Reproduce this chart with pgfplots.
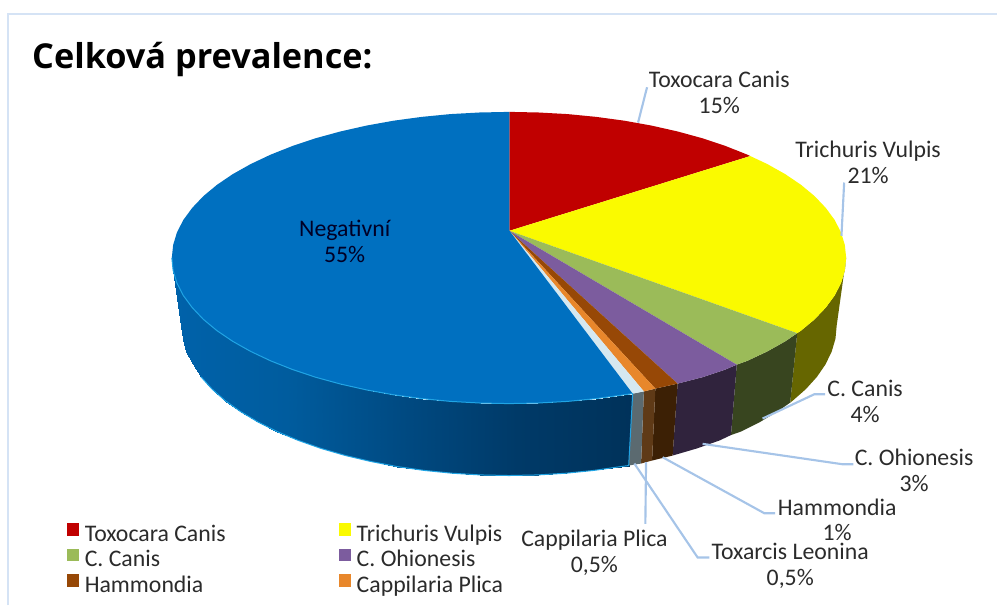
\documentclass[border=0pt]{standalone}
\usepackage{fontspec}
\setmainfont{Carlito}
\newfontfamily\titlefont{Open Sans}
\usepackage{pgfplots}
\pgfplotsset{compat=1.18}

\definecolor{cRed}{HTML}{C00000}
\definecolor{cYellow}{HTML}{FAFA00}
\definecolor{cGreen}{HTML}{9BBB59}
\definecolor{cPurple}{HTML}{7C5C9E}
\definecolor{cBrown}{HTML}{974806}
\definecolor{cOrange}{HTML}{E8872B}
\definecolor{cLight}{HTML}{D5E8F0}
\definecolor{cBlue}{HTML}{0070C0}
\definecolor{sideOlive}{HTML}{666600}
\definecolor{sideGreen}{HTML}{38451F}
\definecolor{sidePurple}{HTML}{30233D}
\definecolor{sideBrown}{HTML}{3C2005}
\definecolor{sideOrange}{HTML}{5F3A17}
\definecolor{sideGrey}{HTML}{5B6A70}
\definecolor{rimCyan}{HTML}{20A4E4}
\definecolor{leader}{HTML}{A6C4E8}
\definecolor{frameBlue}{HTML}{D5E3F5}
\definecolor{labelText}{HTML}{2B2B2B}

\begin{document}
\begin{tikzpicture}[x=1pt,y=1pt]
\begin{axis}[
  scale only axis, width=748.5pt, height=454.5pt,
  xmin=0, xmax=998, ymin=0, ymax=606, y dir=reverse,
  hide axis, clip=false,
  colormap={blueside}{rgb255=(0,98,170) rgb255=(0,92,158) rgb255=(0,74,130) rgb255=(0,58,104) rgb255=(0,50,90)},
  point meta min=172, point meta max=633,
  area legend,
  legend image code/.code={\fill[#1] (0pt,-0.6pt) rectangle (9.4pt,8.8pt);},
  legend columns=2,
  legend cell align=left,
  legend style={
    at={(axis cs:67,523)}, anchor=north west,
    draw=none, fill=none, inner sep=0pt, outer sep=0pt,
    font=\fontsize{17.85}{21}\selectfont\color{labelText},
    nodes={inner sep=0pt, text depth=5.1pt, text height=14pt},
    /tikz/every even column/.append style={column sep=85pt},
    /tikz/column 1/.style={column sep=4pt},
    /tikz/column 3/.style={column sep=4pt},
  },
]
\path (axis cs:0,0) rectangle (axis cs:998,606);

% frame of the chart area
\addplot[forget plot, frameBlue, line width=1.5pt] coordinates {(8,606)(8,14.5)(998,14.5)};

% side wall of the large blue sector, shaded along the rim
\addplot[forget plot, patch, patch type=rectangle, shader=interp, point meta=x] coordinates {
(172,258)(173.3,270.7)(182.7,339.1)(181.5,326)
(173.3,270.7)(177.1,283.3)(186.5,352)(182.7,339.1)
(177.1,283.3)(183.5,295.8)(192.7,364.8)(186.5,352)
(183.5,295.8)(192.4,307.9)(201.3,377.3)(192.7,364.8)
(192.4,307.9)(203.6,319.7)(212.2,389.4)(201.3,377.3)
(203.6,319.7)(217.2,331)(225.4,401)(212.2,389.4)
(217.2,331)(233,341.7)(240.8,412)(225.4,401)
(233,341.7)(251,351.8)(258.2,422.4)(240.8,412)
(251,351.8)(270.9,361.2)(277.6,432.1)(258.2,422.4)
(270.9,361.2)(292.6,369.8)(298.7,440.9)(277.6,432.1)
(292.6,369.8)(315.9,377.6)(321.4,448.9)(298.7,440.9)
(315.9,377.6)(340.75,384.4)(345.5,455.9)(321.4,448.9)
(340.75,384.4)(366.9,390.3)(370.9,461.9)(345.5,455.9)
(366.9,390.3)(394.1,395.2)(397.3,467)(370.9,461.9)
(394.1,395.2)(422.2,399)(424.6,470.9)(397.3,467)
(422.2,399)(450.9,401.8)(452.6,473.7)(424.6,470.9)
(450.9,401.8)(480.1,403.4)(480.9,475.4)(452.6,473.7)
(480.1,403.4)(509.5,404)(509.5,476)(480.9,475.4)
(509.5,404)(538.9,403.4)(538.1,475.4)(509.5,476)
(538.9,403.4)(568.1,401.8)(566.4,473.7)(538.1,475.4)
(568.1,401.8)(596.8,399)(594.4,470.9)(566.4,473.7)
(596.8,399)(624.9,395.2)(621.7,467)(594.4,470.9)
(624.9,395.2)(633.3,394)(629.3,466)(621.7,467)
};

% side walls of the other sectors
\addplot[forget plot, fill=sideOlive, draw=none] coordinates {
(847,258)(845.7,270.7)(841.9,283.3)(835.5,295.8)(826.6,307.9)(815.4,319.7)(801.8,331)(798,333.5)
(791,403)(793.6,401)(806.8,389.4)(817.7,377.3)(826.3,364.8)(832.5,352)(836.3,339.1)(837.5,326)};
\addplot[forget plot, fill=sideGreen, draw=none] coordinates {
(798,333.5)(786,341.7)(768,351.8)(748.1,361.2)(737.5,365)
(731.7,435.5)(741.4,432.1)(760.8,422.4)(778.2,412)(791,403)};
\addplot[forget plot, fill=sidePurple, draw=none] coordinates {
(737.5,365)(726.4,369.8)(703.1,377.6)(678.3,384)
(673.3,456)(697.6,448.9)(720.3,440.9)(731.7,435.5)};
\addplot[forget plot, fill=sideBrown, draw=none] coordinates {(678.3,384)(656,389)(652.7,461)(673.3,456)};
\addplot[forget plot, fill=sideOrange, draw=none] coordinates {(656,389)(644.5,391.8)(641.7,464)(652.7,461)};
\addplot[forget plot, fill=sideGrey, draw=none] coordinates {(644.5,391.8)(633.3,394)(629.3,466)(641.7,464)};

% top faces of the sectors
\addplot[fill=cRed, draw=none] coordinates {
(510,231)(510,112)(538.9,112.6)(568.1,114.2)(596.8,117)(624.9,120.8)(652.1,125.7)(678.3,131.6)
(703.1,138.4)(726.4,146.2)(748.1,154.8)(751,156.2)};
\addlegendentry{Toxocara Canis}
\addplot[fill=cYellow, draw=none] coordinates {
(510,231)(751,156.2)(768,164.2)(786,174.3)(801.8,185)(815.4,196.3)(826.6,208.1)(835.5,220.2)
(841.9,232.7)(845.7,245.3)(847,258)(845.7,270.7)(841.9,283.3)(835.5,295.8)(826.6,307.9)
(815.4,319.7)(801.8,331)(798,333.5)};
\addlegendentry{Trichuris Vulpis}
\addplot[fill=cGreen, draw=none] coordinates {
(510,231)(798,333.5)(786,341.7)(768,351.8)(748.1,361.2)(737.5,365)};
\addlegendentry{C. Canis}
\addplot[fill=cPurple, draw=none] coordinates {
(510,231)(737.5,365)(726.4,369.8)(703.1,377.6)(678.3,384)};
\addlegendentry{C. Ohionesis}
\addplot[fill=cBrown, draw=none] coordinates {(510,231)(678.3,384)(656,389)};
\addlegendentry{Hammondia}
\addplot[fill=cOrange, draw=none] coordinates {(510,231)(656,389)(644.5,391.8)};
\addlegendentry{Cappilaria Plica}
\addplot[forget plot, fill=cLight, draw=none] coordinates {(510,231)(644.5,391.8)(633.3,394)};
\addplot[forget plot, fill=cBlue, draw=none] coordinates {
(510,231)(633.3,394)(624.9,395.2)(596.8,399)(568.1,401.8)(538.9,403.4)(509.5,404)(480.1,403.4)
(450.9,401.8)(422.2,399)(394.1,395.2)(366.9,390.3)(340.75,384.4)(315.9,377.6)(292.6,369.8)
(270.9,361.2)(251,351.8)(233,341.7)(217.2,331)(203.6,319.7)(192.4,307.9)(183.5,295.8)
(177.1,283.3)(173.3,270.7)(172,258)(173.3,245.3)(177.1,232.7)(183.5,220.2)(192.4,208.1)
(203.6,196.3)(217.2,185)(233,174.3)(251,164.2)(270.9,154.8)(292.6,146.2)(315.9,138.4)
(340.75,131.6)(366.9,125.7)(394.1,120.8)(422.2,117)(450.9,114.2)(480.1,112.6)(509.5,112)(510,112)};

% thin bright edges of the blue sector
\addplot[forget plot, rimCyan, line width=0.75pt] coordinates {
(172,258)(173.3,270.7)(177.1,283.3)(183.5,295.8)(192.4,307.9)(203.6,319.7)(217.2,331)(233,341.7)
(251,351.8)(270.9,361.2)(292.6,369.8)(315.9,377.6)(340.75,384.4)(366.9,390.3)(394.1,395.2)
(422.2,399)(450.9,401.8)(480.1,403.4)(509.5,404)(538.9,403.4)(568.1,401.8)(596.8,399)(624.9,395.2)
(633.3,394)(629.3,466)(621.7,467)(594.4,470.9)(566.4,473.7)(538.1,475.4)(509.5,476)(480.9,475.4)
(452.6,473.7)(424.6,470.9)(397.3,467)(370.9,461.9)(345.5,455.9)(321.4,448.9)(298.7,440.9)
(277.6,432.1)(258.2,422.4)(240.8,412)(225.4,401)(212.2,389.4)(201.3,377.3)};

% leader lines from sectors to their labels
\addplot[forget plot, leader, line width=1.6pt] coordinates {(638.7,122.7)(647.7,87.3)};
\addplot[forget plot, leader, line width=1.6pt] coordinates {(842.3,236)(845,182.7)};
\addplot[forget plot, leader, line width=1.6pt] coordinates {(763.3,419)(815,394.7)(826,394.7)};
\addplot[forget plot, leader, line width=1.6pt] coordinates {(703.3,444.3)(843.3,464.7)(854.3,464.7)};
\addplot[forget plot, leader, line width=1.6pt] coordinates {(663.3,457.7)(765,513.7)(776,513.7)};
\addplot[forget plot, leader, line width=1.6pt] coordinates {(646.7,462.7)(646,524.3)};
\addplot[forget plot, leader, line width=1.6pt] coordinates {(635,464)(698.3,558)(710,558)};

% title and sector labels
\tikzset{lab/.style={anchor=base, inner sep=0pt, font=\fontsize{17.85}{21}\selectfont, text=labelText}}
\node[anchor=base west, inner sep=0pt, font=\titlefont\bfseries\fontsize{25.75}{30}\selectfont, text=black] at (axis cs:32,69) {Celková prevalence:};
\node[lab] at (axis cs:720,88) {Toxocara Canis};
\node[lab] at (axis cs:720,114) {15\%};
\node[lab] at (axis cs:869,158) {Trichuris Vulpis};
\node[lab] at (axis cs:869,184) {21\%};
\node[lab] at (axis cs:866,397) {C. Canis};
\node[lab] at (axis cs:866,423) {4\%};
\node[lab] at (axis cs:915,466) {C. Ohionesis};
\node[lab] at (axis cs:915,492) {3\%};
\node[lab] at (axis cs:838,516) {Hammondia};
\node[lab] at (axis cs:838,541) {1\%};
\node[lab] at (axis cs:791,560) {Toxarcis Leonina};
\node[lab] at (axis cs:791,586.5) {0,5\%};
\node[lab] at (axis cs:595,547) {Cappilaria Plica};
\node[lab] at (axis cs:595,573) {0,5\%};
\node[lab, text=black!85!blue] at (axis cs:345,237) {Negativní};
\node[lab, text=black!85!blue] at (axis cs:345,263) {55\%};
\end{axis}
\end{tikzpicture}
\end{document}
